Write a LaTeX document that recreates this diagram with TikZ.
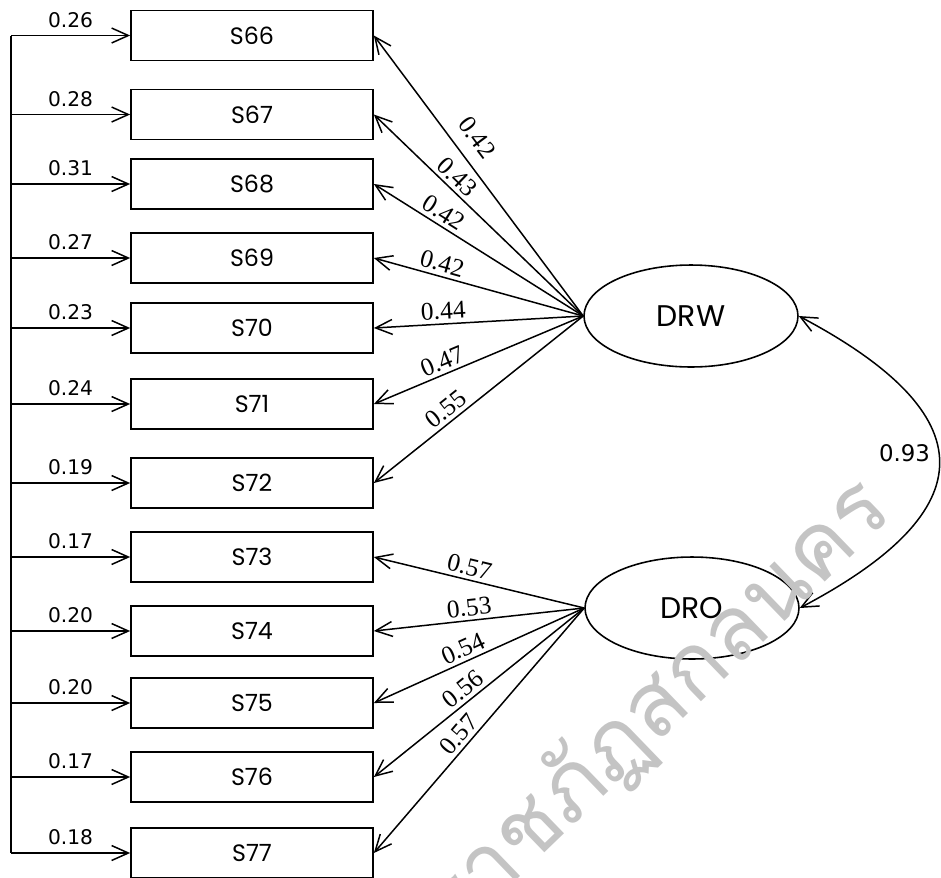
\documentclass[tikz,border=0pt]{standalone}
\usepackage{fontspec}
\setmainfont{Liberation Serif}
\newfontfamily\boxfont{Poppins}
\newfontfamily\numfont{DejaVu Sans}
\newfontfamily\thaifont[Script=Thai]{Loma}
\usetikzlibrary{arrows.meta, shapes.geometric}
\definecolor{wmGray}{HTML}{C4C4C4}

\begin{document}
\begin{tikzpicture}[x=0.02cm, y=-0.02cm, line width=0.85pt,
    >={Straight Barb[length=9.5pt, width=8.5pt]},
    item/.style={draw, line width=1pt, minimum width=4.84cm, minimum height=1cm,
      inner sep=0pt, font=\boxfont\fontsize{13.5}{14}\selectfont},
    latent/.style={draw, ellipse, line width=0.9pt, minimum width=4.28cm,
      minimum height=2.04cm, inner sep=0pt, font=\boxfont\fontsize{17}{18}\selectfont},
    err/.style={font=\numfont\fontsize{11.5}{12}\selectfont, above, inner sep=4pt},
    load/.style={font=\fontsize{14.5}{15}\selectfont, sloped, above, inner sep=2pt}]
  \useasboundingbox (0,0) rectangle (941,877);
  \foreach \s/\y/\e in {66/35.5/0.26, 67/114.5/0.28, 68/184/0.31, 69/258/0.27,
      70/328/0.23, 71/404/0.24, 72/483/0.19, 73/557/0.17, 74/631/0.20,
      75/703/0.20, 76/777/0.17, 77/853/0.18}{
    \node[item] (S\s) at (252,\y) {S\s};
    \coordinate (e\s) at (11,\y);
    \draw[->] (e\s) -- node[err] {\e} (S\s.west);
  }
  \draw (e66) -- (e77);

  \node[latent] (DRW) at (691,316) {DRW};
  \node[latent] (DRO) at (692,608) {DRO};
  \foreach \s/\v/\p/\d in {66/0.42/0.59/7pt, 67/0.43/0.645/2pt, 68/0.42/0.70/2pt,
      69/0.42/0.69/2pt, 70/0.44/0.665/2pt, 71/0.47/0.65/2pt, 72/0.55/0.62/2pt}
    \draw[->] (DRW.west) -- node[load, pos=\p, inner sep=\d] {\v} (S\s.east);
  \foreach \s/\v/\p in {73/0.57/0.56, 74/0.53/0.54, 75/0.54/0.55, 76/0.56/0.54, 77/0.57/0.55}
    \draw[->] (DRO.west) -- node[load, pos=\p] {\v} (S\s.east);

  \draw[<->] (DRW.east) .. controls +(187,99) and +(186,-98) ..
    node[pos=0.47, left, inner sep=4.5pt, font=\numfont\fontsize{13}{14}\selectfont] (cov) {0.93}
    (DRO.east);

  \begin{scope}
    \clip (0,0) rectangle (941,877);
    \node[anchor=base east, rotate=44, inner sep=0pt, text=wmGray,
      font=\thaifont\fontsize{51}{51}\selectfont] (wm) at (896,514)
      {มหาวิทยาลัยราชภัฏสกลนคร};
  \end{scope}
\end{tikzpicture}
\end{document}
